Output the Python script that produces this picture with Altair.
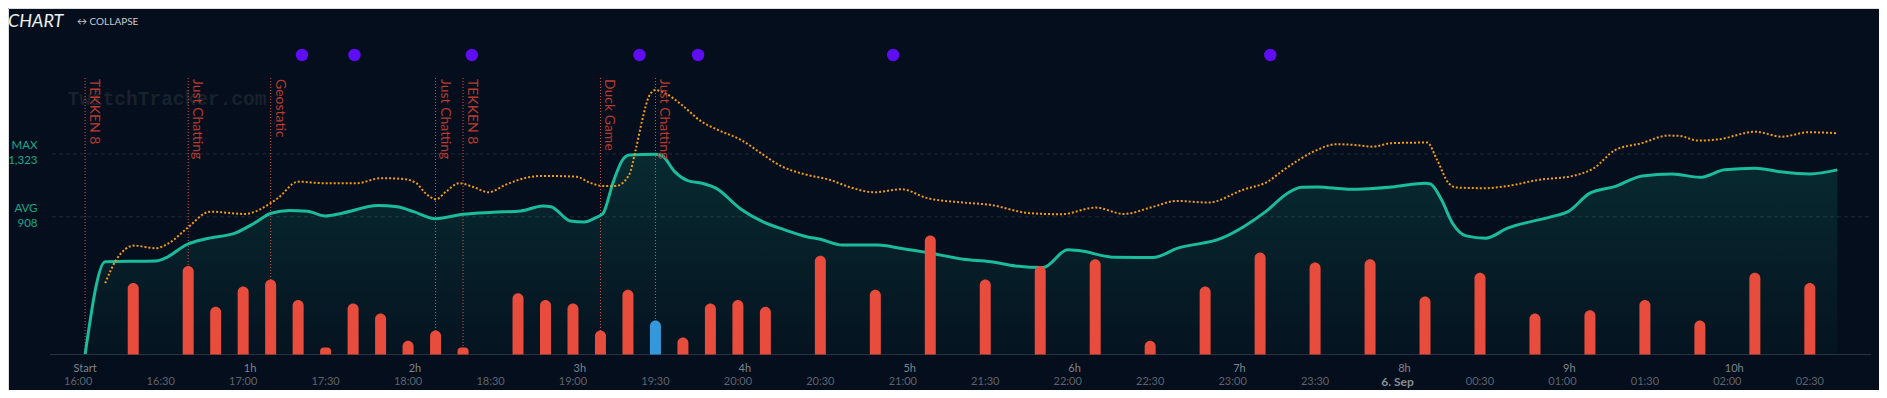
import altair as alt
import pandas as pd

# ---------------- data (x = minutes after 16:00) ----------------
v_min = [2.5, 9.8, 28.4, 31.6, 39.7, 46.2, 57.5, 64, 70.2, 76.8, 83.4, 89.8, 96, 109, 116, 122, 130, 140,
         151, 161, 169, 172, 179, 184, 188.5, 191, 194.5, 198, 200.5, 210, 212.5, 217, 222, 227, 232, 241,
         249, 257, 265, 270, 278, 291, 299, 309, 322, 332, 341, 351, 360, 364, 377, 391, 400, 416, 424,
         432, 440, 445, 451, 462, 479, 490, 492, 496, 500, 505, 512, 520, 536, 542, 550, 559, 569, 580,
         590, 599, 610, 619, 630, 640]
v_val = [0, 612, 617, 635, 727, 762, 804, 866, 932, 949, 945, 914, 932, 982, 975, 942, 896, 925,
         938, 947, 980, 975, 881, 874, 904, 932, 1130, 1283, 1316, 1321, 1310, 1206, 1145, 1130, 1097, 960,
         876, 822, 777, 760, 722, 722, 701, 672, 628, 612, 584, 573, 690, 685, 641, 639, 701, 767, 843,
         942, 1064, 1103, 1105, 1090, 1107, 1130, 1125, 1020, 866, 782, 767, 833, 909, 942, 1064, 1107, 1178, 1191,
         1169, 1218, 1229, 1206, 1191, 1218]

p_min = [9.8, 13.8, 20.4, 28.2, 33, 39.6, 48, 60.6, 69, 72.6, 80, 89.4, 101.4, 110, 118.2, 123, 126.6,
         130.2, 133.8, 138.6, 143.4, 149.4, 155.4, 163.2, 169.2, 181.2, 186, 190.8, 195.6, 200.4, 202.8,
         205.2, 207.6, 210, 213.6, 219.6, 226.8, 232.8, 241.2, 248.4, 255.6, 264, 273.6, 280.2, 289.8,
         299.4, 309, 322.2, 331.8, 346.2, 357.6, 370.2, 380.4, 391.2, 399.6, 411, 423.6, 433.2, 438, 444,
         449.4, 457.8, 464.4, 471, 477.6, 490.8, 494.4, 498.6, 501.6, 511.8, 520.2, 531, 544.2, 551.4,
         559.2, 568.8, 578.4, 582.6, 589.2, 597, 610.2, 619.8, 629.4, 640]
p_val = [470, 624, 718, 701, 734, 833, 942, 927, 987, 1031, 1140, 1130, 1130, 1163, 1158, 1130, 1059,
         1024, 1074, 1130, 1107, 1070, 1119, 1167, 1178, 1173, 1134, 1112, 1112, 1184, 1349,
         1547, 1701, 1745, 1723, 1646, 1536, 1481, 1415, 1328, 1244, 1190, 1151, 1107, 1070,
         1090, 1031, 1002, 987, 932, 925, 969, 927, 975, 1013, 1002, 1085, 1145, 1210, 1283,
         1338, 1387, 1382, 1371, 1394, 1398, 1283, 1130, 1101, 1097, 1112, 1151, 1180, 1229,
         1349, 1394, 1444, 1442, 1411, 1420, 1470, 1437, 1466, 1460]

b_min = [20, 40, 50, 60, 70, 80, 90, 100, 110, 120, 130, 140, 160, 170, 180, 190, 200, 210, 220, 230,
         240, 250, 270, 290, 310, 330, 350, 370, 390, 410, 430, 450, 470, 490, 510, 530, 550, 570, 590,
         610, 630]
b_val = [21, 26, 14, 20, 22, 16, 2, 15, 12, 4, 7, 2, 18, 16, 15, 7, 19, 10, 5, 15,
         16, 14, 29, 19, 35, 22, 26, 28, 4, 20, 30, 27, 28, 17, 24, 12, 13, 16, 10,
         24, 21]
highlight_min = 210

game_min = [2.5, 40, 70, 130, 140, 190, 210]
game_name = ["TEKKEN 8", "Just Chatting", "Geostatic", "Just Chatting", "TEKKEN 8", "Duck Game", "Just Chatting"]

event_min = [81.4, 100.5, 143.2, 204.2, 225.5, 296.5, 433.7]

ref_label = ["MAX", "AVG"]
ref_val = [1323, 908]
ref_text = ["1,323", "908"]

hour_min = [2.5, 62.5, 122.5, 182.5, 242.5, 302.5, 362.5, 422.5, 482.5, 542.5, 602.5]
hour_txt = ["Start", "1h", "2h", "3h", "4h", "5h", "6h", "7h", "8h", "9h", "10h"]
time_min = [0, 30, 60, 90, 120, 150, 180, 210, 240, 270, 300, 330, 360, 390, 420, 450, 510, 540, 570, 600, 630]
time_txt = ["16:00", "16:30", "17:00", "17:30", "18:00", "18:30", "19:00", "19:30", "20:00", "20:30",
            "21:00", "21:30", "22:00", "22:30", "23:00", "23:30", "00:30", "01:00", "01:30", "02:00", "02:30"]
date_min = [480]
date_txt = ["6. Sep"]

# ---------------- chart ----------------
W, H = 1871, 382
BG = "#040e1c"
FONT = "Lato"
BASE = 346.4          # pixel row of the zero line inside the plot
X0, PXMIN = 65.6, 2.7633   # pixel column of 16:00 and pixels per minute
X = alt.Scale(domain=[-X0 / PXMIN, (W - X0) / PXMIN], nice=False, zero=False)
YV = alt.Scale(domain=[-(H - BASE) * 6.6, BASE * 6.6], nice=False, zero=False)
YB = alt.Scale(domain=[-(H - BASE) / 3.4, BASE / 3.4], nice=False, zero=False)

viewers = pd.DataFrame({"m": v_min, "v": v_val})
peak = pd.DataFrame({"m": p_min, "v": p_val})
bars = pd.DataFrame({"m": b_min, "v": b_val,
                     "k": ["blue" if m == highlight_min else "red" for m in b_min]})
games = pd.DataFrame({"m": game_min, "name": game_name})
events = pd.DataFrame({"m": event_min})
refs = pd.DataFrame({"v": ref_val, "txt": [a + "\n" + b for a, b in zip(ref_label, ref_text)]})
hours = pd.DataFrame({"m": hour_min, "t": hour_txt})
times = pd.DataFrame({"m": time_min, "t": time_txt})
dates = pd.DataFrame({"m": date_min, "t": date_txt})
one = pd.DataFrame({"a": [0]})

xenc = alt.X("m:Q", scale=X, axis=None)

title = alt.Chart(one).mark_text(text="CHART", font=FONT, fontSize=18, fontStyle="italic", color="#eceef0",
                                 align="left", baseline="alphabetic").encode(x=alt.value(0), y=alt.value(19))
collapse = alt.Chart(one).mark_text(text="\u2194 COLLAPSE", font=FONT, fontSize=10, color="#c9ccd1",
                                    align="left", baseline="alphabetic").encode(x=alt.value(69), y=alt.value(17))
watermark = alt.Chart(one).mark_text(text="TwitchTracker.com", font="Liberation Mono", fontSize=19.5,
                                     fontWeight="bold", color="#18212d", align="center",
                                     baseline="middle").encode(x=alt.value(159), y=alt.value(91))

grid = alt.Chart(refs).mark_rule(color="#1f2a38", strokeDash=[4, 3], strokeWidth=1).encode(
    y=alt.Y("v:Q", scale=YV, axis=None), x=alt.value(44), x2=alt.value(1861))
grid_lbl = alt.Chart(refs).mark_text(font=FONT, fontSize=11.5, color="#1aa88b", align="right", baseline="middle",
                                     lineBreak="\n", lineHeight=15, dy=-7.5).encode(
    y=alt.Y("v:Q", scale=YV, axis=None), x=alt.value(29.5), text="txt:N")

plot_lines = alt.Chart(games).mark_rule(color="#e74c3c", strokeDash=[1, 2], strokeWidth=1).encode(
    x=xenc, y=alt.value(70), y2=alt.value(BASE))
plot_lbl = alt.Chart(games).mark_text(angle=90, align="left", baseline="alphabetic", dy=-5, font=FONT,
                                      fontSize=14, color="#b83b30").encode(
    x=xenc, y=alt.value(71), text="name:N")

area = alt.Chart(viewers).mark_area(
    interpolate="monotone",
    color=alt.Gradient(gradient="linear", x1=0, x2=0, y1=0, y2=1,
                       stops=[alt.GradientStop(color="rgba(26,188,156,0.16)", offset=0),
                              alt.GradientStop(color="rgba(26,188,156,0.03)", offset=1)])).encode(
    x=xenc, y=alt.Y("v:Q", scale=YV, axis=None), y2=alt.datum(0))
line = alt.Chart(viewers).mark_line(interpolate="monotone", color="#1abc9c", strokeWidth=3).encode(
    x=xenc, y=alt.Y("v:Q", scale=YV, axis=None))
peak_line = alt.Chart(peak).mark_line(interpolate="monotone", color="#f39c12", strokeWidth=2,
                                      strokeDash=[2, 2]).encode(
    x=xenc, y=alt.Y("v:Q", scale=YV, axis=None))

axis_line = alt.Chart(one).mark_rule(color="#28313f", strokeWidth=1).encode(
    x=alt.value(42), x2=alt.value(1863), y=alt.value(BASE + 0.1))

bar = alt.Chart(bars).mark_bar(width=11, cornerRadiusTopLeft=5.5, cornerRadiusTopRight=5.5).encode(
    x=xenc, y=alt.Y("v:Q", scale=YB, axis=None), y2=alt.datum(0),
    color=alt.Color("k:N", scale=alt.Scale(domain=["red", "blue"], range=["#e74c3c", "#3498db"]), legend=None))

dots = alt.Chart(events).mark_circle(size=154, color="#5e0df5", opacity=1).encode(x=xenc, y=alt.value(47))

hour_lbl = alt.Chart(hours).mark_text(font=FONT, fontSize=11, color="#7f848c", baseline="middle").encode(
    x=xenc, y=alt.value(361), text="t:N")
time_lbl = alt.Chart(times).mark_text(font=FONT, fontSize=11, color="#5f646c", baseline="middle").encode(
    x=xenc, y=alt.value(374.3), text="t:N")
date_lbl = alt.Chart(dates).mark_text(font=FONT, fontSize=12, fontWeight="bold", color="#8a8d92",
                                      baseline="middle").encode(x=xenc, y=alt.value(374), text="t:N")

chart = alt.layer(
    watermark, grid, plot_lines, area, line, peak_line, axis_line, bar, dots,
    plot_lbl, grid_lbl, hour_lbl, time_lbl, date_lbl, title, collapse
).resolve_scale(y="independent").properties(
    width=W, height=H, autosize=alt.AutoSizeParams(type="none"), padding=0, background=BG
).configure_view(stroke=None).configure(font=FONT)

chart.save("out.html", embed_options={"renderer": "svg", "actions": False})
